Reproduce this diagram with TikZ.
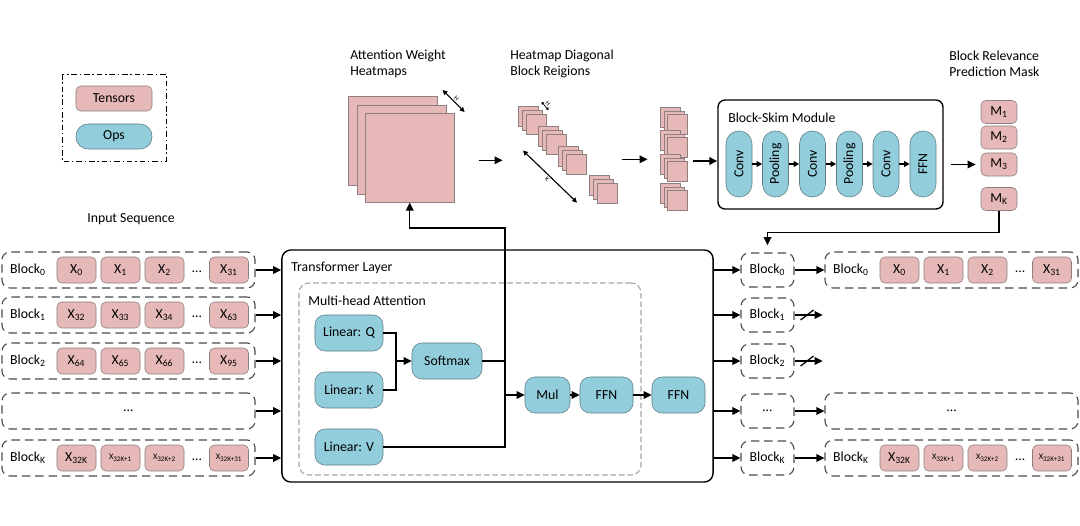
\documentclass[tikz,border=0pt]{standalone}
\usepackage{fontspec}
\setmainfont{Carlito}
\usetikzlibrary{arrows.meta,positioning,calc}
\definecolor{tnsfill}{HTML}{E6B8B7}
\definecolor{tnsline}{HTML}{8E8080}
\definecolor{opfill}{HTML}{92CDDC}
\definecolor{opline}{HTML}{5E7C84}

\begin{document}
\begin{tikzpicture}[x=0.025cm, y=-0.025cm, font=\fontsize{9.8}{11.4}\selectfont,
  arr/.style={-{Triangle[length=2mm,width=1.9mm]}, line width=1pt},
  sarr/.style={-{Triangle[length=1.4mm,width=1.4mm]}, line width=1pt},
  harr/.style={{Triangle[length=1.2mm,width=1.2mm]}-{Triangle[length=1.2mm,width=1.2mm]}, line width=0.8pt},
  tns/.style={draw=tnsline, fill=tnsfill, rounded corners=0.12cm, minimum width=0.975cm, minimum height=0.65cm, inner sep=1pt},
  op/.style={draw=opline, fill=opfill, rounded corners=0.25cm, minimum height=0.9cm, inner sep=2pt},
  vop/.style={draw=opline, fill=opfill, rounded corners=0.32cm, minimum width=0.65cm, minimum height=1.65cm, inner sep=1pt},
  grp/.style={draw=black!70, dash pattern=on 6pt off 3.5pt, line width=0.8pt, rounded corners=0.2cm, minimum width=6.325cm, minimum height=0.9cm},
  sel/.style={grp, minimum width=1.325cm, minimum height=0.85cm},
  sq/.style={draw=tnsline, fill=tnsfill, anchor=north west, minimum size=#1, inner sep=0pt},
  mask/.style={tns, minimum width=0.9cm, minimum height=0.575cm},
  lbl/.style={font=\fontsize{4.5}{5}\selectfont, inner sep=1pt},
  smallx/.style={tns, font=\fontsize{6}{7}\selectfont},
]
\useasboundingbox (0,0) rectangle (1080,526);

% legend
\draw[line width=0.7pt, dash pattern=on 4pt off 2pt on 1pt off 2pt] (62,74) rectangle (166,161);
\node[tns, minimum width=1.9cm, minimum height=0.625cm] (lgt) at (114,98.5) {Tensors};
\node[op, rounded corners=0.3cm, minimum width=1.9cm, minimum height=0.625cm] (lgo) at (114,136.5) {Ops};
\node (inseq) at (131,219) {Input Sequence};

% headers
\node[anchor=north west, align=left, inner sep=0pt] (hmlab) at (350,50) {Attention Weight\\Heatmaps};
\node[anchor=north west, align=left, inner sep=0pt] (dglab) at (510,50) {Heatmap Diagonal\\Block Reigions};
\node[anchor=north west, align=left, inner sep=0pt] (mklab) at (949,51) {Block Relevance\\Prediction Mask};

% heatmaps
\foreach \i/\o in {1/0,2/8.5,3/17} \node[sq=2.225cm] (hm\i) at (348+\o,96+\o) {};
\draw[harr] (hm1.north east) ++(5,-6) -- ++(22,22) node[midway, lbl, sloped, above] {H};
\draw[arr] (hm3.east) ++(24,2.5) -- ++(24,0);

% diagonal block regions
\foreach \g/\x/\y in {1/526/114, 2/546/134, 3/566/154, 4/597/183}{
  \foreach \o in {8,4,0} \node[sq=0.5cm] (dg\g) at (\x-\o,\y-\o) {};
}
\draw[{Triangle[length=0.6mm,width=0.8mm]}-{Triangle[length=0.6mm,width=0.8mm]}, line width=0.5pt] (dg1.north east) ++(-5,-12) -- ++(7,8) node[midway, lbl, sloped, above] {H};
\draw[harr] (dg1.south west) ++(-3,16) -- ++(54,52) node[midway, lbl, sloped, below] {K};
\draw[arr] (dg3.east) ++(35,-5) -- ++(26,0);

% stacked blocks
\foreach \g/\y in {1/114,2/137,3/161,4/190}{
  \foreach \o in {7,3.5,0} \node[sq=0.5cm] (st\g) at (667-\o,\y-\o) {};
}

% block-skim module
\node[draw, line width=1pt, rounded corners=0.18cm, minimum width=5.625cm, minimum height=2.725cm] (skim) at (830.5,154.5) {};
\node[anchor=west, inner sep=0pt] (skimlab) at (728,118) {Block-Skim Module};
\foreach \i/\x/\t in {1/739/Conv, 2/775.5/Pooling, 3/812.5/Conv, 4/849.5/Pooling, 5/886/Conv, 6/923/FFN}
  \node[vop] (s\i) at (\x,164) {\rotatebox{90}{\t}};
\foreach \i [evaluate=\i as \j using int(\i+1)] in {1,...,5} \draw[sarr] (s\i) -- (s\j);
\draw[arr] (st3.north east) ++(5,0) -- (skim.west |- st3.north);

% prediction mask
\foreach \i/\y/\t in {1/112/1, 2/137.5/2, 3/164.5/3, K/199/K}
  \node[mask] (m\i) at (999,\y) {M\textsubscript{\t}};
\draw[arr, shorten <=0.175cm, shorten >=0.125cm] (skim.east |- m3) -- (m3.west);

% input and output sequences
\foreach \s/\L/\r/\y/\a/\b/\c/\d in {in/2/0/270/0/1/2/31, in/2/1/315/32/33/34/63, in/2/2/361/64/65/66/95, out/825/0/270/0/1/2/31}{
  \node[grp] (\s\r) at (\L+126.5,\y) {};
  \node (\s\r b) at (\L+26,\y) {Block\textsubscript{\r}};
  \foreach \t/\dx in {\a/74.5, \b/118.5, \c/162.5, \d/227} \node[tns] (\s\r x\t) at (\L+\dx,\y) {X\textsubscript{\t}};
  \node (\s\r d) at (\L+195,\y+2) {\dots};
}
\foreach \s/\L in {in/2, out/825}{
  \node[grp] (\s3) at (\L+126.5,411) {};
  \node (\s3d) at (\L+126.5,411) {\dots};
  \node[grp] (\s K) at (\L+126.5,458) {};
  \node (\s Kb) at (\L+26,458) {Block\textsubscript{K}};
  \node[tns] (\s Kx0) at (\L+74.5,458) {X\textsubscript{32K}};
  \foreach \t/\dx in {1/118.5, 2/162.5, 31/227} \node[smallx] (\s Kx\t) at (\L+\dx,458) {X\textsubscript{32K+\t}};
  \node (\s Kd) at (\L+195,460) {\dots};
}

% transformer layer
\node[draw, line width=1pt, rounded corners=0.22cm, minimum width=10.775cm, minimum height=5.8cm] (tl) at (497.5,366) {};
\node[anchor=west, inner sep=0pt] (tllab) at (291,268) {Transformer Layer};
\node[draw=black!35, dash pattern=on 4pt off 2pt, line width=0.8pt, rounded corners=0.25cm, minimum width=8.55cm, minimum height=4.8cm] (mha) at (470,379) {};
\node[anchor=west, inner sep=0pt] (mhalab) at (308,301) {Multi-head Attention};

\node[op, minimum width=1.7cm] (lq) at (349,333) {Linear: Q};
\node[op, minimum width=1.7cm] (lk) at (349,390) {Linear: K};
\node[op, minimum width=1.7cm] (lv) at (349,447) {Linear: V};
\node[op, minimum width=1.75cm] (sm) at (447,361) {Softmax};
\node[op, minimum width=1.125cm] (mul) at (547.5,395) {Mul};
\node[op, minimum width=1.325cm] (ffa) at (606.5,395) {FFN};
\node[op, minimum width=1.325cm] (ffb) at (678.5,395) {FFN};

\coordinate (qk) at (396,361);
\coordinate (jn) at (505,361);
\coordinate (up) at (505,228);
\draw[line width=1pt] (lq.east) -| (qk) |- (lk.east);
\draw[arr] (qk) -- (sm.west);
\draw[arr] (sm.east) -| (up) -| (hm3.south);
\draw[line width=1pt] (lv.east) -| (jn);
\draw[arr] (jn |- mul) -- (mul);
\draw[arr] (mul) -- (ffa);
\draw[arr] (ffa) -- (ffb);

\foreach \r in {0,1,2,3,K} \draw[arr] (in\r.east) -- (in\r.east -| tl.west);

% selected blocks
\foreach \r/\y/\t in {0/270/Block\textsubscript{0}, 1/315/Block\textsubscript{1}, 2/361/Block\textsubscript{2}, 3/411/\dots, K/458/Block\textsubscript{K}}{
  \node[sel] (sel\r) at (767.5,\y) {\t};
  \draw[arr] (sel\r.west -| tl.east) -- (sel\r.west);
}
\foreach \r in {0,3,K} \draw[arr] (sel\r) -- (out\r);
\foreach \r in {1,2}{
  \draw[arr] (sel\r.east) -- ++(28,0);
  \draw[line width=0.9pt] ($(sel\r.east)+(6,5)$) -- ++(13,-10);
}
\draw[arr, shorten >=0.18cm] (mK.south) -- ++(0,22) -| (sel0.north);
\end{tikzpicture}
\end{document}
